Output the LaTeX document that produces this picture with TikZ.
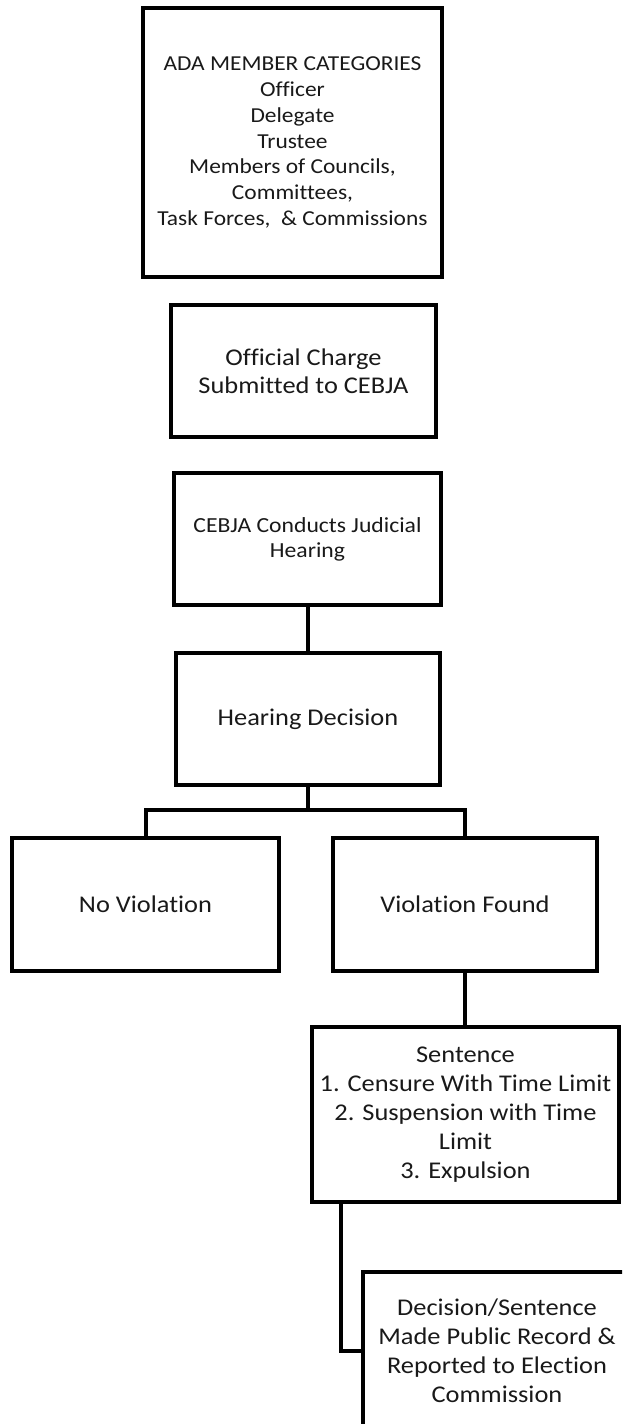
\documentclass[tikz,border=0pt]{standalone}
\usepackage{fontspec}
\setmainfont{Carlito}[FakeStretch=1.1,Ligatures={NoCommon}]
\usetikzlibrary{positioning}
\tikzset{%
box/.style={draw,line width=4pt,align=center,text=black!90,inner sep=0pt,font=\fontsize{24}{29}\selectfont},
link/.style={line width=4pt}
}

\begin{document}
\begin{tikzpicture}[x=1pt,y=-1pt]
\useasboundingbox (0,0) rectangle (622,1424);
\clip (0,0) rectangle (622,1424);
\node[box,minimum width=299pt,minimum height=269pt,font=\fontsize{21.3}{25.8}\selectfont] (members) at (292.5,142.5)
        {ADA MEMBER CATEGORIES\\Officer\\Delegate\\Trustee\\Members of Councils,\\Committees,\\Task Forces,\ \ \& Commissions};
\node[box,minimum width=265pt,minimum height=132pt,font=\fontsize{24}{28}\selectfont] (charge) at (303.5,371)
        {Official Charge\\Submitted to CEBJA};
\node[box,minimum width=267pt,minimum height=132pt,font=\fontsize{21.5}{25}\selectfont] (hearing) at (307.5,539)
        {CEBJA Conducts Judicial\\Hearing};
\node[box,minimum width=264pt,minimum height=132pt] (decision) at (308,719) {Hearing Decision};
\node[box,minimum width=267pt,minimum height=133pt] (noviol) at (145.5,904.5) {No Violation};
\node[box,minimum width=264pt,minimum height=133pt] (viol) at (465,904.5) {Violation Found};
\node[box,minimum width=307pt,minimum height=175pt] (sentence) at (465.5,1114.5)
        {Sentence\\1. Censure With Time Limit\\2. Suspension with Time\\Limit\\3. Expulsion};
\node[box,minimum width=268pt,minimum height=158pt] (publicrec) at (497,1351)
        {Decision/Sentence\\Made Public Record \&\\Reported to Election\\Commission};
% connectors
\coordinate (split) at (308,810);
\draw[link] (hearing.south) -- (hearing.south |- decision.north);
\draw[link] (decision.south) -- (split);
\draw[link] (noviol.north) |- (split) -| (viol.north);
\draw[link] (viol.south) -- (viol.south |- sentence.north);
\draw[link] ([xshift=31pt]sentence.south west) |- (publicrec.west);
\end{tikzpicture}
\end{document}
